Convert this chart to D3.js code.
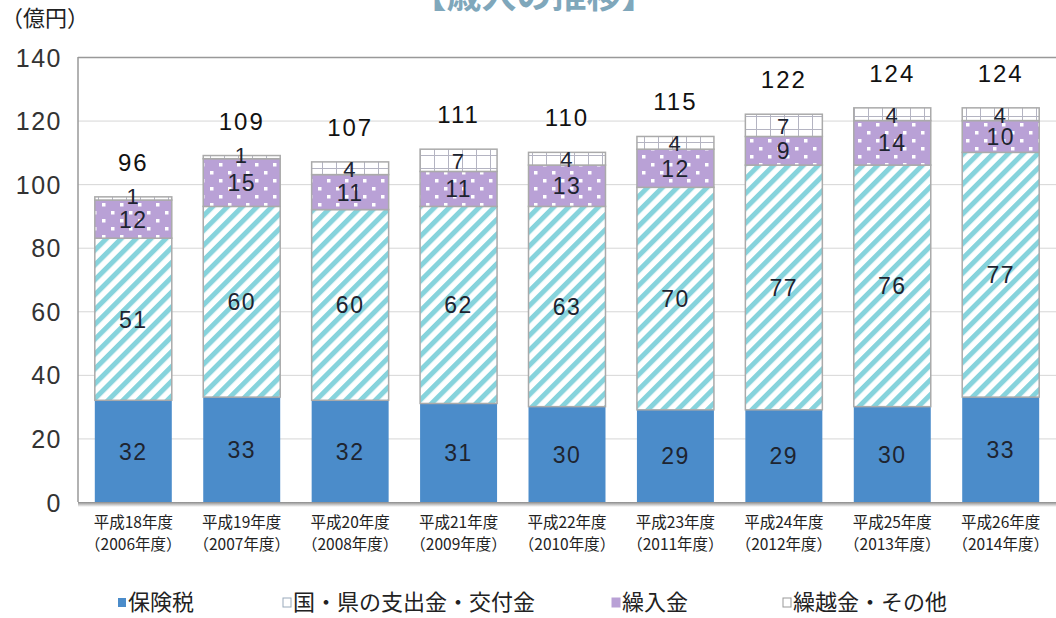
<!DOCTYPE html>
<html><head><meta charset="utf-8">
<script src="https://cdn.jsdelivr.net/npm/d3@7"></script>
<style>body{margin:0;background:#fff}svg{display:block}</style>
</head><body>
<script>
const categories = ["平成18年度","平成19年度","平成20年度","平成21年度","平成22年度","平成23年度","平成24年度","平成25年度","平成26年度"];
const yearLabels = ["（2006年度）","（2007年度）","（2008年度）","（2009年度）","（2010年度）","（2011年度）","（2012年度）","（2013年度）","（2014年度）"];
const hokenzei = [32,33,32,31,30,29,29,30,33];
const kokuken = [51,60,60,62,63,70,77,76,77];
const kurireki = [12,15,11,11,13,12,9,14,10];
const kurikoshi = [1,1,4,7,4,4,7,4,4];
const totals = [96,109,107,111,110,115,122,124,124];
const seriesNames = ["保険税","国・県の支出金・交付金","繰入金","繰越金・その他"];
const yTicks = [0,20,40,60,80,100,120,140];

const W=1056,H=618;
const font = "'Noto Sans CJK JP', 'Noto Sans', sans-serif";
const numFont = "'Liberation Sans', Arial, sans-serif";
const svg = d3.select("body").append("svg").attr("width",W).attr("height",H).style("font-family",font);
const defs = svg.append("defs");

// patterns
const ps = defs.append("pattern").attr("id","stripe").attr("patternUnits","userSpaceOnUse")
  .attr("width",10.5).attr("height",10.5).attr("patternTransform","rotate(45)");
ps.append("rect").attr("width",10.5).attr("height",10.5).attr("fill","#fff");
ps.append("rect").attr("width",5).attr("height",10.5).attr("fill","#86d3dc");

const pd = defs.append("pattern").attr("id","dots").attr("patternUnits","userSpaceOnUse")
  .attr("width",18).attr("height",16);
pd.append("rect").attr("width",18).attr("height",16).attr("fill","#b9a1d6");
pd.append("rect").attr("x",3).attr("y",3).attr("width",3.5).attr("height",3.5).attr("fill","#fff");
pd.append("rect").attr("x",12).attr("y",11).attr("width",3.5).attr("height",3.5).attr("fill","#fff");

const pg = defs.append("pattern").attr("id","grid").attr("patternUnits","userSpaceOnUse")
  .attr("width",14).attr("height",13);
pg.append("rect").attr("width",14).attr("height",13).attr("fill","#fff");
pg.append("path").attr("d","M0.5,0V13M0,12.5H14").attr("stroke","#b4b4c2").attr("stroke-width",1).attr("fill","none");

const grad = defs.append("linearGradient").attr("id","shadow").attr("x1",0).attr("y1",0).attr("x2",0).attr("y2",1);
grad.append("stop").attr("offset",0).attr("stop-color","#8a8a8a");
grad.append("stop").attr("offset",1).attr("stop-color","#fff");

const pLeft=78,pRight=1056,pTop=57,pBottom=502;
const x = d3.scaleBand().domain(categories).range([pLeft,pRight]).paddingInner(0.29).paddingOuter(0.155);
const y = d3.scaleLinear().domain([0,140]).range([pBottom,pTop]);

// title (cut off at top edge, as in the reference)
svg.append("text").attr("x",534).attr("y",8).attr("text-anchor","middle")
  .attr("font-size",35).attr("font-weight",700).attr("fill","#7fa7bb").text("【歳入の推移】");

// unit
svg.append("text").attr("x",45).attr("y",26).attr("text-anchor","middle").attr("font-size",22).attr("fill","#222").text("（億円）");

// gridlines
svg.append("g").selectAll("line").data(yTicks.filter(d=>d>0)).join("line")
  .attr("x1",pLeft).attr("x2",pRight).attr("y1",d=>y(d)+0.5).attr("y2",d=>y(d)+0.5)
  .attr("stroke",d=>d===140?"#999":"#d6d6d6").attr("stroke-width",d=>d===140?1.5:1);
// frame
svg.append("line").attr("x1",pLeft).attr("x2",pLeft).attr("y1",pTop).attr("y2",pBottom).attr("stroke","#999").attr("stroke-width",1.5);
svg.append("rect").attr("x",pLeft).attr("y",pBottom).attr("width",pRight-pLeft).attr("height",5).attr("fill","url(#shadow)");

// y axis labels
const yAxis = d3.axisLeft(y).tickValues(yTicks).tickSize(0).tickPadding(16);
const ga = svg.append("g").attr("transform",`translate(${pLeft},0)`).call(yAxis);
ga.select(".domain").remove();
ga.selectAll("text").attr("font-size",25).attr("fill","#333").attr("font-family",numFont)
  .attr("letter-spacing",1.5).attr("dy","0.36em");

// stacked bars
const rows = categories.map((c,i)=>({cat:c,v:[hokenzei[i],kokuken[i],kurireki[i],kurikoshi[i]],total:totals[i]}));
const fills = ["#4b8cca","url(#stripe)","url(#dots)","url(#grid)"];
const strokes = ["none","#aaa","#aaa","#aaa"];
const gb = svg.append("g");
rows.forEach(r=>{
  let acc=0;
  r.v.forEach((v,k)=>{
    const y0=acc, y1=acc+v; acc=y1;
    gb.append("rect").attr("x",x(r.cat)).attr("width",x.bandwidth())
      .attr("y",y(y1)).attr("height",y(y0)-y(y1))
      .attr("fill",fills[k]).attr("stroke",strokes[k]).attr("stroke-width",1.5);
  });
  acc=0;
  r.v.forEach((v,k)=>{
    const y0=acc, y1=acc+v; acc=y1;
    let yy = y((y0+y1)/2)+8.5;
    if(k===3 && v<2) yy = y(y1)+7;
    gb.append("text").attr("x",x(r.cat)+x.bandwidth()/2).attr("y",yy).attr("text-anchor","middle")
      .attr("font-family",numFont).attr("letter-spacing",1.5)
      .attr("font-size",k===3?22:23).attr("fill","#1e2430").text(v);
  });
  gb.append("text").attr("x",x(r.cat)+x.bandwidth()/2).attr("y",y(r.total)-26).attr("text-anchor","middle")
    .attr("font-family",numFont).attr("letter-spacing",2)
    .attr("font-size",24).attr("fill","#111").text(r.total);
});

// x labels
const gx = svg.append("g");
categories.forEach((c,i)=>{
  const cx = x(c)+x.bandwidth()/2;
  gx.append("text").attr("x",cx).attr("y",528).attr("text-anchor","middle").attr("font-size",15.5).attr("fill","#222").text(c);
  gx.append("text").attr("x",cx).attr("y",550).attr("text-anchor","middle").attr("font-size",15.5).attr("fill","#222").text(yearLabels[i]);
});

// legend
const legX=[118,283,612,783];
const legFill=["#4b8cca","#fff","#b9a1d6","#fff"];
const legStroke=["none","#9ab","#b9a1d6","#999"];
seriesNames.forEach((n,i)=>{
  svg.append("rect").attr("x",legX[i]).attr("y",598).attr("width",8).attr("height",9)
    .attr("fill",legFill[i]).attr("stroke",legStroke[i]).attr("stroke-width",1);
  svg.append("text").attr("x",legX[i]+10).attr("y",610).attr("font-size",22).attr("fill","#222").text(n);
});
</script>
</body></html>
